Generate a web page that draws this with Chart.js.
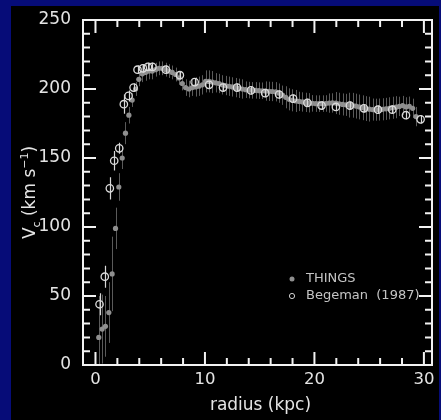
<!DOCTYPE html>
<html><head><meta charset="utf-8">
<script src="https://cdn.jsdelivr.net/npm/chart.js@4"></script>
<style>html,body{margin:0;padding:0;background:#060c78;}canvas{display:block}</style>
</head><body>
<canvas id="c" width="441" height="420"></canvas>
<script>
// THINGS rotation curve (radius kpc, velocity km/s, error km/s)
const thingsR = [0.30,0.61,0.91,1.22,1.52,1.83,2.13,2.44,2.74,3.05,3.35,3.66,3.96,
 4.27,4.57,4.88,5.18,5.49,5.79,6.10,6.40,6.71,7.01,7.32,7.62,7.93,
 8.23,8.54,8.84,9.15,9.45,9.76,10.06,10.37,10.67,10.98,11.28,11.59,11.89,
 12.20,12.50,12.81,13.11,13.42,13.72,14.03,14.33,14.64,14.94,15.25,15.55,15.86,16.16,
 16.47,16.77,17.08,17.38,17.69,17.99,18.30,18.60,18.91,19.21,19.52,19.82,20.13,
 20.43,20.74,21.04,21.35,21.65,21.96,22.26,22.57,22.87,23.18,23.48,23.79,24.09,
 24.40,24.70,25.01,25.31,25.62,25.92,26.23,26.53,26.84,27.14,27.45,27.75,28.06,28.36,28.67,28.97,29.28];
const thingsV = [20,26,28,38,66,99,129,150,168,181,192,200,207,
 211,212,213,213,214,215,215,214,213,212,210.5,208,204,
 201,200,201,201.5,202,203,205.5,205.5,205,204.5,204,203,202.5,
 202,201.5,201,200.5,200,199.5,199.2,199,199,198.8,198.7,198.5,198.3,198.2,
 198,197,195.5,194,192.5,191.8,191.3,191,190.6,190.3,190,189.6,189.4,
 189.4,189.4,189.5,189.8,189.9,189.8,189.3,188.8,188.5,188.3,188.2,187.6,187,
 186.4,185.8,185.4,185.1,185,185.1,185.3,185.6,186,186.4,186.8,187.4,188,187,187.5,186,180];
const thingsErr = [30,25,22,22,27,15,10,8,8,6,5,5,5,
 6,6,6,6,5,5,5,5,5,5,5,5,5,
 6,6,6,7,7,7,8,8,8,7,7,7,7,
 7,7,7,7,7,6,6,6,6,6,6,7,7,7,
 7,7,7,8,8,8,8,7,7,7,7,6,6,
 6,6,6,7,7,8,8,8,8,9,9,9,9,
 9,9,9,8,8,8,8,8,8,8,8,7,7,7,7,7,7];
// Begeman (1987)
const begR = [0.37,0.85,1.31,1.71,2.17,2.59,3.02,3.48,3.84,4.33,4.79,5.20,6.43,7.71,9.06,10.37,11.65,12.93,14.20,15.50,16.77,18.05,19.36,20.65,21.96,23.24,24.52,25.80,27.11,28.36,29.70];
const begV = [44,64,128,148,157,189,195,201,214,215,216,216,214,210,205,203,201,201,199,197,196,193,190,188,187,188,186,185,185,181,178];
const begErr = [8,8,8,7,4,7,4,3,3,3,3,3,3,3,3,3,3,3,3,3,3,3,3,3,3,3,3,3,3,3,3];
// ticks
const xTickVals = [0,2,4,6,8,10,12,14,16,18,20,22,24,26,28,30];
const xLabelVals = [0,10,20,30];
const yTickVals = [0,10,20,30,40,50,60,70,80,90,100,110,120,130,140,150,160,170,180,190,200,210,220,230,240,250];
const yLabelVals = [0,50,100,150,200,250];
const xTitle = 'radius (kpc)';
const legendNames = ['THINGS', 'Begeman  (1987)'];

const FONT = '"DejaVu Sans"';
const W = 'normal';

const bgPlugin = {id:'bg', beforeDraw(chart){
  const c = chart.ctx; c.save();
  c.fillStyle = '#060c78'; c.fillRect(0,0,441,420);
  c.fillStyle = '#000'; c.fillRect(11,6,428,414);
  c.restore();
}};

function drawErr(chart, xs, ys, es, color, w){
  const sx = chart.scales.x, sy = chart.scales.y, c = chart.ctx, a = chart.chartArea;
  c.save();
  c.beginPath(); c.rect(a.left, a.top, a.right-a.left, a.bottom-a.top); c.clip();
  c.strokeStyle = color; c.lineWidth = w; c.beginPath();
  xs.forEach((r,i)=>{
    const px = Math.round(sx.getPixelForValue(r)) + 0.5;
    c.moveTo(px, sy.getPixelForValue(ys[i]-es[i]));
    c.lineTo(px, sy.getPixelForValue(ys[i]+es[i]));
  });
  c.stroke(); c.restore();
}

const errPlugin = {id:'err',
  beforeDatasetsDraw(chart){ drawErr(chart, thingsR, thingsV, thingsErr, 'rgba(120,120,120,0.75)', 1); },
  afterDatasetsDraw(chart){ drawErr(chart, begR, begV, begErr, '#d8d8d8', 1.2); }
};

const framePlugin = {id:'frame', afterDraw(chart){
  const c = chart.ctx, a = chart.chartArea, sx = chart.scales.x, sy = chart.scales.y;
  c.save();
  c.strokeStyle = '#f2f2f2'; c.lineWidth = 2;
  c.strokeRect(a.left, a.top, a.right-a.left, a.bottom-a.top);
  c.beginPath();
  xTickVals.forEach(v=>{
    const px = sx.getPixelForValue(v);
    const len = (v % 10 === 0) ? 13 : 7;
    c.moveTo(px, a.bottom); c.lineTo(px, a.bottom-len);
    c.moveTo(px, a.top); c.lineTo(px, a.top+len);
  });
  yTickVals.forEach(v=>{
    const py = sy.getPixelForValue(v);
    const len = (v % 50 === 0) ? 13 : 7;
    c.moveTo(a.left, py); c.lineTo(a.left+len, py);
    c.moveTo(a.right, py); c.lineTo(a.right-len, py);
  });
  c.stroke();

  // axis titles
  c.fillStyle = '#e4e4e4';
  c.font = W + ' 17px ' + FONT;
  c.textAlign = 'center'; c.textBaseline = 'middle';
  c.fillText(xTitle, (a.left+a.right)/2 + 3, 406);

  // y title with sub/superscripts, rotated
  const parts = [
    {t:'V', s:17, dy:0},
    {t:'c', s:11, dy:5},
    {t:' (km s', s:17, dy:0},
    {t:'\u22121', s:11, dy:-7},
    {t:')', s:17, dy:0}
  ];
  let total = 0;
  parts.forEach(p=>{ c.font = W+' '+p.s+'px '+FONT; p.w = c.measureText(p.t).width; total += p.w; });
  c.save();
  c.translate(29, (a.top+a.bottom)/2);
  c.rotate(-Math.PI/2);
  c.textAlign = 'left'; c.textBaseline = 'alphabetic';
  let x0 = -total/2;
  parts.forEach(p=>{ c.font = W+' '+p.s+'px '+FONT; c.fillText(p.t, x0, 6 + p.dy); x0 += p.w; });
  c.restore();

  // legend
  c.font = W + ' 13px ' + FONT;
  c.textAlign = 'left'; c.textBaseline = 'middle';
  c.fillStyle = '#8f8f8f';
  c.beginPath(); c.arc(292, 279, 2.5, 0, Math.PI*2); c.fill();
  c.strokeStyle = '#cfcfcf'; c.lineWidth = 1;
  c.beginPath(); c.arc(292, 296, 2.6, 0, Math.PI*2); c.stroke();
  c.fillStyle = '#c4c4c4';
  c.fillText(legendNames[0], 306, 279);
  c.fillText(legendNames[1], 306, 296);
  c.restore();
}};

new Chart(document.getElementById('c'), {
  type: 'scatter',
  data: {
    datasets: [
      {label: legendNames[0], data: thingsR.map((r,i)=>({x:r, y:thingsV[i]})),
       pointRadius: 2.6, pointBackgroundColor: '#8f8f8f', pointBorderWidth: 0, borderColor:'#8f8f8f', order: 2},
      {label: legendNames[1], data: begR.map((r,i)=>({x:r, y:begV[i]})),
       pointRadius: 3.7, pointBackgroundColor: 'rgba(0,0,0,0)', pointBorderColor: '#dcdcdc', pointBorderWidth: 1.3, order: 1}
    ]
  },
  options: {
    responsive: false, animation: false, devicePixelRatio: 1,
    layout: {padding: {left: 0, right: 9, top: 20, bottom: 0}},
    plugins: {legend: {display: false}, tooltip: {enabled: false}},
    scales: {
      x: {type: 'linear', min: -1.14, max: 30.74,
        grid: {display: false, drawTicks: false}, border: {display: false},
        afterBuildTicks(s){ s.ticks = xTickVals.map(v=>({value: v})); },
        ticks: {color: '#e4e4e4', font: {family: FONT, size: 16.5, weight: W}, padding: 5,
          maxRotation: 0, autoSkip: false,
          callback: (v)=> xLabelVals.includes(v) ? String(v) : ''},
        afterFit(s){ s.height = 55; s.paddingLeft = 0; s.paddingRight = 0; }
      },
      y: {type: 'linear', min: 0, max: 250,
        grid: {display: false, drawTicks: false}, border: {display: false},
        afterBuildTicks(s){ s.ticks = yTickVals.map(v=>({value: v})); },
        ticks: {color: '#e4e4e4', font: {family: FONT, size: 17, weight: W}, padding: 12,
          autoSkip: false,
          callback: (v)=> yLabelVals.includes(v) ? String(v) : ''},
        afterFit(s){ s.width = 83; s.paddingTop = 0; s.paddingBottom = 0; }
      }
    }
  },
  plugins: [bgPlugin, errPlugin, framePlugin]
});
</script>
</body></html>
